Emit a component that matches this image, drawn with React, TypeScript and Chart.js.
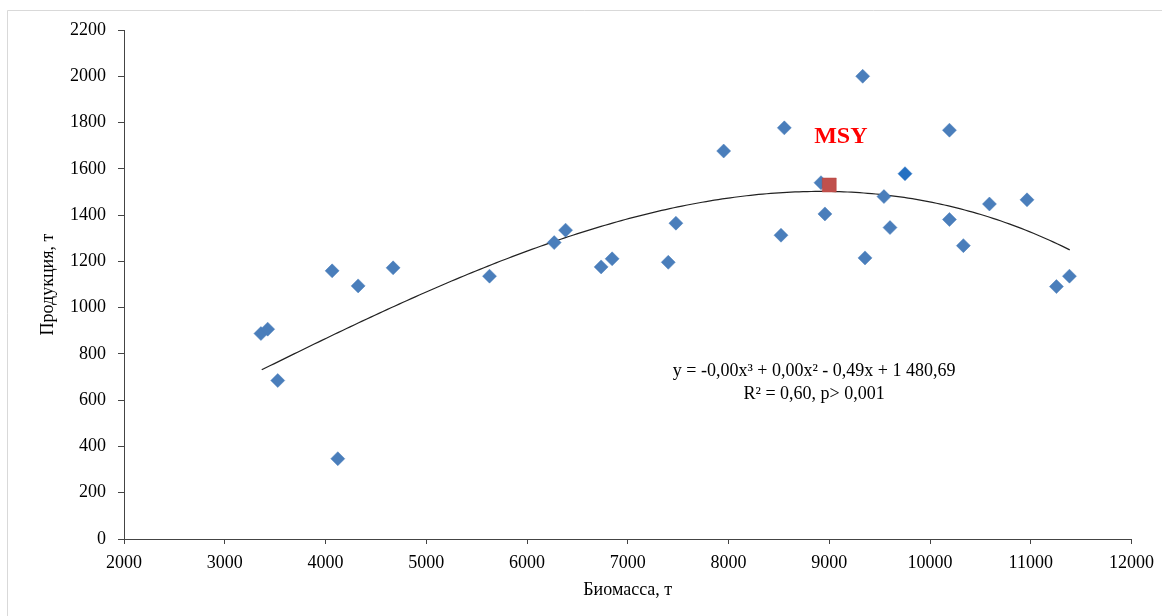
import { useEffect, useRef } from "react";
import { Chart, registerables } from "chart.js";

Chart.register(...registerables);

// Biomass (t) and production (t) observations
const biomass = [
  3359, 3426, 3526, 4066, 4122, 4324, 4671, 5628, 6270, 6383, 6736, 6845, 7402, 7478, 7952,
  8521, 8554, 8918, 8957, 9332, 9355, 9543, 9603, 9752, 10193, 10193, 10331, 10590, 10963,
  11255, 11384,
];
const production = [
  888, 907, 685, 1159, 347, 1094, 1172, 1136, 1281, 1335, 1176, 1211, 1196, 1365, 1677,
  1313, 1777, 1540, 1405, 2000, 1215, 1480, 1346, 1579, 1767, 1381, 1268, 1448, 1466,
  1091, 1136,
];
const msyBiomass = [9000];
const msyProduction = [1530];

// polynomial (3rd order) trendline as drawn, in t = (x - 7000) / 1000
const trendCenter = 7000;
const trendScale = 1000;
const trendCoefficients = [1383.6, 116.7, -24.67, -2.026];
const trendRange = [3367, 11387];

const xMin = 2000;
const xMax = 12000;
const xStep = 1000;
const yMin = 0;
const yMax = 2200;
const yStep = 200;

const xTitle = "Биомасса, т";
const yTitle = "Продукция, т";
const msyLabel = "MSY";
const equationLines = ["y = -0,00x³ + 0,00x² - 0,49x + 1 480,69", "R² = 0,60, p> 0,001"];

const FONT = "'Liberation Serif', 'Times New Roman', serif";

function evalTrend(x: number): number {
  const t = (x - trendCenter) / trendScale;
  const c = trendCoefficients;
  return c[0] + c[1] * t + c[2] * t * t + c[3] * t * t * t;
}

export default function App() {
  const ref = useRef<HTMLCanvasElement>(null);

  useEffect(() => {
    if (!ref.current) return;
    const [lo, hi] = trendRange;
    const trend: { x: number; y: number }[] = [];
    const steps = 200;
    for (let i = 0; i <= steps; i++) {
      const x = lo + ((hi - lo) * i) / steps;
      trend.push({ x, y: evalTrend(x) });
    }

    const scatter = biomass.map((x, i) => ({ x, y: production[i] }));
    const msy = msyBiomass.map((x, i) => ({ x, y: msyProduction[i] }));
    const pointColors = biomass.map((x, i) => (x === 9752 && production[i] === 1579 ? "#2470c2" : "#4a7ebb"));

    const overlay = {
      id: "overlay",
      beforeDraw(chart: any) {
        const ctx = chart.ctx;
        ctx.save();
        ctx.fillStyle = "#ffffff";
        ctx.fillRect(0, 0, chart.width, chart.height);
        ctx.strokeStyle = "#d9d9d9";
        ctx.lineWidth = 1;
        ctx.beginPath();
        ctx.moveTo(7.5, chart.height);
        ctx.lineTo(7.5, 10.5);
        ctx.lineTo(chart.width, 10.5);
        ctx.stroke();
        ctx.restore();
      },
      afterDatasetsDraw(chart: any) {
        const ctx = chart.ctx;
        const xs = chart.scales.x;
        const ys = chart.scales.y;
        ctx.save();
        ctx.textAlign = "center";
        ctx.textBaseline = "middle";
        ctx.fillStyle = "#ff0000";
        ctx.font = `bold 24px ${FONT}`;
        ctx.fillText(msyLabel, xs.getPixelForValue(9115), ys.getPixelForValue(1738));
        ctx.fillStyle = "#000000";
        ctx.font = `18px ${FONT}`;
        ctx.fillText(equationLines[0], xs.getPixelForValue(8850), ys.getPixelForValue(724));
        ctx.fillText(equationLines[1], xs.getPixelForValue(8850), ys.getPixelForValue(627));
        ctx.restore();
      },
    };

    const chart = new Chart(ref.current, {
      type: "scatter",
      data: {
        datasets: [
          {
            label: "MSY",
            data: msy,
            pointStyle: "rect",
            pointRadius: 9.9,
            pointHoverRadius: 9.9,
            backgroundColor: "#c0504d",
            borderColor: "#b8453f",
            borderWidth: 0.5,
            order: 0,
          },
          {
            label: "data",
            data: scatter,
            pointStyle: "rectRot",
            pointRadius: 7,
            pointHoverRadius: 7,
            backgroundColor: pointColors,
            borderColor: pointColors,
            borderWidth: 0.5,
            order: 1,
          },
          {
            label: "trend",
            type: "line",
            data: trend,
            borderColor: "#222222",
            borderWidth: 1.2,
            pointRadius: 0,
            fill: false,
            tension: 0,
            order: 2,
          } as any,
        ],
      },
      options: {
        responsive: false,
        animation: false,
        events: [],
        layout: { padding: { left: 0, top: 30, right: 30, bottom: 0 } },
        plugins: {
          legend: { display: false },
          tooltip: { enabled: false },
          title: { display: false },
        },
        scales: {
          x: {
            type: "linear",
            min: xMin,
            max: xMax,
            ticks: {
              stepSize: xStep,
              color: "#000",
              padding: 8,
              font: { family: FONT, size: 18 },
              callback: (v: any) => String(v),
            },
            grid: {
              drawOnChartArea: false,
              drawTicks: true,
              tickLength: 5,
              color: "#444",
            },
            border: { display: true, color: "#444", width: 1 },
            title: {
              display: true,
              text: xTitle,
              color: "#000",
              font: { family: FONT, size: 18 },
              padding: { top: 0, bottom: 15 },
            },
            afterFit: (s: any) => {
              s.height = 77;
            },
          },
          y: {
            type: "linear",
            min: yMin,
            max: yMax,
            ticks: {
              stepSize: yStep,
              color: "#000",
              padding: 12,
              font: { family: FONT, size: 18 },
              callback: (v: any) => String(v),
            },
            grid: {
              drawOnChartArea: false,
              drawTicks: true,
              tickLength: 6,
              color: "#444",
            },
            border: { display: true, color: "#444", width: 1 },
            title: {
              display: true,
              text: yTitle,
              color: "#000",
              font: { family: FONT, size: 18 },
              padding: { top: 37, bottom: 0 },
            },
            afterFit: (s: any) => {
              s.width = 124;
            },
          },
        },
      },
      plugins: [overlay],
    });

    return () => chart.destroy();
  }, []);

  return (
    <div style={{ position: "fixed", left: 0, top: 0, width: 1162, height: 616, background: "#fff" }}>
      <canvas ref={ref} width={1162} height={616} style={{ display: "block" }} />
    </div>
  );
}
